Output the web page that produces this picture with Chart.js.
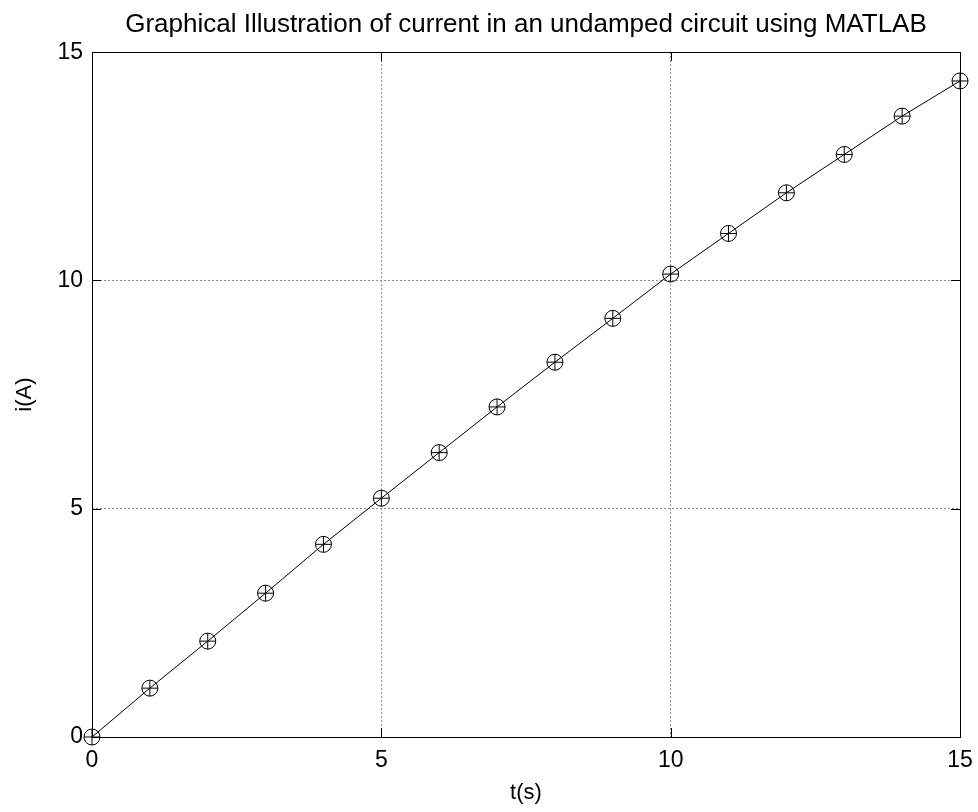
<!DOCTYPE html>
<html lang="en">
<head>
  <meta charset="UTF-8">
  <title>Current in an undamped circuit</title>
  <script src="https://cdn.jsdelivr.net/npm/chart.js@4.4.1/dist/chart.umd.min.js"></script>
  <style>
    html, body { margin: 0; padding: 0; background: #fff; }
    #wrap { width: 978px; height: 812px; }
  </style>
</head>
<body>
  <div id="wrap"><canvas id="plot" width="978" height="812"></canvas></div>

  <script>
  // data
  const times = [0, 1, 2, 3, 4, 5, 6, 7, 8, 9, 10, 11, 12, 13, 14, 15];
  const current = [0, 1.07, 2.10, 3.15, 4.22, 5.23, 6.23, 7.23, 8.21, 9.17,
                   10.14, 11.03, 11.92, 12.76, 13.60, 14.37];
  const tickValues = [0, 5, 10, 15];

  const points = times.map((t, i) => ({ x: t, y: current[i] }));
  const font = 'Liberation Sans, Arial, sans-serif';

  // MATLAB style box with ticks pointing inwards
  const boxPlugin = {
    id: 'box',
    afterDraw(chart) {
      const { ctx, chartArea: a, scales } = chart;
      const len = 9;
      ctx.save();
      ctx.strokeStyle = '#000';
      ctx.lineWidth = 1;
      ctx.beginPath();
      tickValues.forEach(v => {
        const px = Math.round(scales.x.getPixelForValue(v)) + 0.5;
        ctx.moveTo(px, a.bottom); ctx.lineTo(px, a.bottom - len);
        ctx.moveTo(px, a.top); ctx.lineTo(px, a.top + len);
        const py = Math.round(scales.y.getPixelForValue(v)) + 0.5;
        ctx.moveTo(a.left, py); ctx.lineTo(a.left + len, py);
        ctx.moveTo(a.right, py); ctx.lineTo(a.right - len, py);
      });
      ctx.stroke();
      ctx.strokeRect(Math.round(a.left) + 0.5, Math.round(a.top) + 0.5,
                     Math.round(a.right - a.left), Math.round(a.bottom - a.top));
      ctx.restore();
    }
  };

  new Chart(document.getElementById('plot'), {
    type: 'scatter',
    data: {
      datasets: [{
        label: 'i(t)',
        data: points,
        showLine: true,
        clip: false,
        borderColor: '#000',
        borderWidth: 1,
        pointStyle: 'circle',
        pointRadius: 8,
        pointBorderWidth: 1,
        pointBorderColor: '#000',
        pointBackgroundColor: 'rgba(0,0,0,0)',
        fill: false
      }, {
        label: 'i(t) +',
        data: points,
        showLine: false,
        clip: false,
        pointStyle: 'cross',
        pointRadius: 8,
        pointBorderWidth: 1,
        pointBorderColor: '#000'
      }]
    },
    options: {
      responsive: false,
      animation: false,
      layout: { padding: { top: 0, right: 18, bottom: 0, left: 0 } },
      plugins: {
        legend: { display: false },
        tooltip: { enabled: false },
        title: {
          display: true,
          fullSize: false,
          text: 'Graphical Illustration of current in an undamped circuit using MATLAB',
          color: '#000',
          font: { family: font, size: 26, weight: 'normal' },
          padding: { top: 9, bottom: 12 }
        }
      },
      scales: {
        x: {
          type: 'linear',
          min: 0,
          max: 15,
          afterBuildTicks: s => { s.ticks = tickValues.map(v => ({ value: v })); },
          afterFit: s => { s.height = 75; s.paddingLeft = 0; s.paddingRight = 0; },
          ticks: { color: '#000', padding: 10, font: { family: font, size: 23 } },
          grid: { color: '#8c8c8c', lineWidth: 1, drawTicks: false },
          border: { display: false, dash: [2, 2] },
          title: {
            display: true, text: 't(s)', color: '#000',
            font: { family: font, size: 22 }, padding: { top: 0, bottom: 6 }
          }
        },
        y: {
          type: 'linear',
          min: 0,
          max: 15,
          afterBuildTicks: s => { s.ticks = tickValues.map(v => ({ value: v })); },
          afterFit: s => { s.width = 92; s.paddingTop = 0; s.paddingBottom = 0; },
          ticks: { color: '#000', padding: 9, font: { family: font, size: 23 } },
          grid: { color: '#8c8c8c', lineWidth: 1, drawTicks: false },
          border: { display: false, dash: [2, 2] },
          title: {
            display: true, text: 'i(A)', color: '#000',
            font: { family: font, size: 22 }, padding: { top: 12, bottom: 12 }
          }
        }
      }
    },
    plugins: [boxPlugin]
  });
  </script>
</body>
</html>
